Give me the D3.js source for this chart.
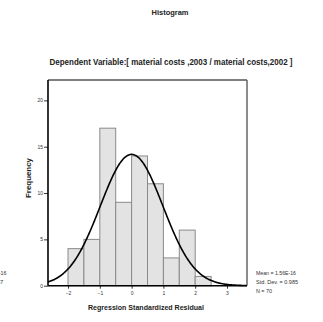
<!DOCTYPE html>
<html>
<head>
<meta charset="utf-8">
<script src="https://cdn.jsdelivr.net/npm/d3@7"></script>
<style>
  body { margin: 0; background: #fff; }
  text { font-family: "Liberation Sans Narrow", "Arial Narrow", "Liberation Sans", Arial, sans-serif; }
</style>
</head>
<body>
<svg id="chart" width="323" height="322"></svg>
<script>
// residual bins (width 0.5) and their counts
const binStarts = [-2, -1.5, -1, -0.5, 0, 0.5, 1, 1.5, 2];
const counts = [4, 5, 17, 9, 14, 11, 3, 6, 1];
const binWidth = 0.5;
const xTicks = [-2, -1, 0, 1, 2, 3];
const yTicks = [0, 5, 10, 15, 20];
const mean = 1.56e-16, sd = 0.985, n = 70;
const statsLines = ['Mean = 1.56E-16', 'Std. Dev. = 0.985', 'N = 70'];
const clippedLines = ['Mean = 1.06E-16', 'Std. Dev. = 0.987']; // left over from a neighbour chart

const svg = d3.select('#chart');
const plotL = 48, plotR = 247, plotT = 80, plotB = 285.7;

const x = d3.scaleLinear().domain([-2.63, 3.63]).range([plotL, plotR]);
const y = d3.scaleLinear().domain([0, 22.2]).range([plotB, plotT]);

// titles
svg.append('text').attr('x', 170).attr('y', 15).attr('text-anchor', 'middle')
  .attr('font-size', 8).attr('font-weight', 'bold').attr('fill', '#222')
  .attr('textLength', 37).attr('lengthAdjust', 'spacingAndGlyphs').text('Histogram');
svg.append('text').attr('x', 171).attr('y', 65).attr('text-anchor', 'middle')
  .attr('font-size', 8.6).attr('font-weight', 'bold').attr('fill', '#222')
  .attr('textLength', 243).attr('lengthAdjust', 'spacingAndGlyphs')
  .text('Dependent Variable:[ material  costs ,2003 / material  costs,2002 ]');

// bars
svg.append('g').selectAll('rect')
  .data(binStarts.map((s, i) => ({ s, c: counts[i] })))
  .join('rect')
  .attr('x', d => x(d.s))
  .attr('y', d => y(d.c))
  .attr('width', d => x(d.s + binWidth) - x(d.s))
  .attr('height', d => y(0) - y(d.c))
  .attr('fill', '#e3e3e3')
  .attr('stroke', '#8a8a8a')
  .attr('stroke-width', 1);

// normal curve
const pdf = v => Math.exp(-0.5 * ((v - mean) / sd) ** 2) / (sd * Math.sqrt(2 * Math.PI));
const curvePts = d3.range(-2.63, 3.6301, 0.02).map(v => [v, n * binWidth * pdf(v)]);
svg.append('path')
  .datum(curvePts)
  .attr('d', d3.line().x(d => x(d[0])).y(d => y(d[1])).curve(d3.curveBasis))
  .attr('fill', 'none').attr('stroke', '#000').attr('stroke-width', 1.6);

// frame
svg.append('line').attr('x1', plotL).attr('x2', plotR).attr('y1', plotT).attr('y2', plotT)
  .attr('stroke', '#555').attr('stroke-width', 1.3);
svg.append('line').attr('x1', plotR).attr('x2', plotR).attr('y1', plotT).attr('y2', plotB)
  .attr('stroke', '#666').attr('stroke-width', 1.5);

// axes
const xAxis = svg.append('g').attr('transform', `translate(0,${plotB})`)
  .call(d3.axisBottom(x).tickValues(xTicks).tickFormat(d3.format('d'))
    .tickSize(3).tickPadding(3).tickSizeOuter(0));
const yAxis = svg.append('g').attr('transform', `translate(${plotL},0)`)
  .call(d3.axisLeft(y).tickValues(yTicks).tickFormat(d3.format('d'))
    .tickSize(4).tickPadding(1).tickSizeOuter(0));
[xAxis, yAxis].forEach(g => {
  g.select('.domain').attr('stroke', '#000').attr('stroke-width', 1.6);
  g.selectAll('.tick line').attr('stroke', '#000').attr('stroke-width', 0.8);
  g.selectAll('.tick text').attr('font-size', 5).attr('fill', '#333')
    .style('font-family', '"Liberation Sans Narrow", "Arial Narrow", sans-serif');
});
yAxis.select('.domain').attr('d', `M0,${plotT}V${plotB}`);
xAxis.select('.domain').attr('d', `M${plotL},0H${plotR}`);

// axis titles
svg.append('text').attr('transform', 'translate(31,178) rotate(-90)').attr('text-anchor', 'middle')
  .attr('font-size', 8).attr('font-weight', 'bold').attr('fill', '#222')
  .attr('textLength', 40).attr('lengthAdjust', 'spacingAndGlyphs')
  .text('Frequency');
svg.append('text').attr('x', 146).attr('y', 310).attr('text-anchor', 'middle')
  .attr('font-size', 8).attr('font-weight', 'bold').attr('fill', '#222')
  .attr('textLength', 116).attr('lengthAdjust', 'spacingAndGlyphs')
  .text('Regression Standardized Residual');

// stats box
svg.append('g').selectAll('text').data(statsLines).join('text')
  .attr('x', 256).attr('y', (d, i) => 275 + i * 9)
  .attr('font-size', 5.4).attr('fill', '#333')
  .attr('textLength', (d, i) => [40, 42, 16][i]).attr('lengthAdjust', 'spacingAndGlyphs')
  .text(d => d);
svg.append('g').selectAll('text').data(clippedLines).join('text')
  .attr('x', (d, i) => i === 0 ? 6.5 : 3.2).attr('y', (d, i) => 275 + i * 9).attr('text-anchor', 'end')
  .attr('font-size', 5.4).attr('fill', '#333').text(d => d);
</script>
</body>
</html>
